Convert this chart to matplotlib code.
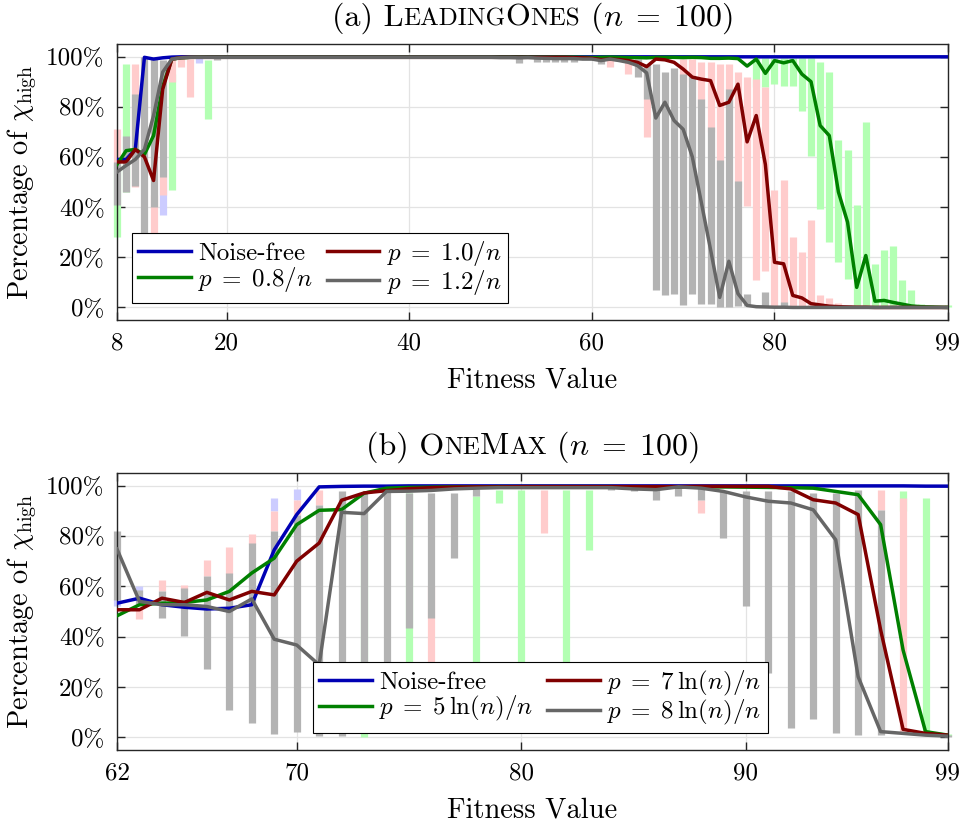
import matplotlib
matplotlib.use('Agg')
import matplotlib.pyplot as plt
from matplotlib.offsetbox import TextArea, HPacker, AnchoredOffsetbox

plt.rcParams.update({
    'font.family': 'serif',
    'font.serif': ['cmr10'],
    'mathtext.fontset': 'cm',
    'axes.unicode_minus': False,
    'axes.formatter.use_mathtext': True,
})

FS_TICK = 18
FS_LABEL = 20.5
FS_LEG = 18
FS_TITLE = 23
FS_SC = 18

# ---------------- (a) LeadingOnes ----------------
fit_a = list(range(8, 100))
a_noise_free = [59.0, 59.0, 63.0, 99.7, 99.0, 99.5, 99.8, 99.9, 99.9, 99.8,
                99.9, 99.9, 99.9, 99.9, 99.9, 99.9, 99.9, 99.9, 99.9, 99.9,
                99.9, 99.9, 99.9, 99.9, 99.9, 99.9, 99.9, 99.9, 99.9, 99.9,
                99.9, 99.9, 99.9, 99.9, 99.9, 99.9, 99.9, 99.9, 99.9, 99.9,
                99.9, 99.9, 99.9, 99.9, 99.9, 99.9, 99.9, 99.9, 99.9, 99.9,
                99.9, 99.9, 99.9, 99.9, 99.9, 99.9, 99.9, 99.9, 99.9, 99.9,
                99.9, 99.9, 99.9, 99.9, 99.9, 99.9, 99.9, 99.9, 99.9, 99.9,
                99.9, 99.9, 99.9, 99.9, 99.9, 99.9, 99.9, 99.9, 99.9, 99.9,
                99.9, 99.9, 99.9, 99.9, 99.9, 99.9, 99.9, 99.9, 99.9, 99.9,
                99.9, 99.9]
a_p08 = [57.0, 62.5, 63.0, 61.0, 68.5, 88.0, 99.0, 99.5, 99.7, 99.8,
         99.8, 99.8, 99.8, 99.8, 99.8, 99.8, 99.8, 99.8, 99.8, 99.8,
         99.8, 99.8, 99.8, 99.8, 99.8, 99.8, 99.8, 99.8, 99.8, 99.8,
         99.8, 99.8, 99.8, 99.8, 99.8, 99.8, 99.8, 99.8, 99.8, 99.8,
         99.8, 99.8, 99.8, 99.8, 99.8, 99.8, 99.8, 99.8, 99.8, 99.8,
         99.8, 99.7, 99.6, 99.7, 99.8, 99.7, 99.6, 99.6, 99.5, 99.7,
         99.7, 99.7, 99.6, 99.7, 99.6, 99.3, 99.3, 99.4, 99.2, 96.2,
         99.0, 93.3, 98.4, 97.5, 98.4, 93.0, 90.0, 72.5, 68.5, 46.0,
         34.0, 8.0, 20.7, 2.5, 2.8, 2.0, 1.3, 0.6, 0.3, 0.2,
         0.1, 0.0]
a_p10 = [58.0, 58.0, 63.0, 60.0, 50.6, 87.0, 99.0, 99.6, 99.7, 99.7,
         99.7, 99.7, 99.7, 99.7, 99.7, 99.7, 99.7, 99.7, 99.7, 99.7,
         99.7, 99.7, 99.7, 99.7, 99.7, 99.7, 99.7, 99.7, 99.7, 99.7,
         99.7, 99.7, 99.7, 99.7, 99.7, 99.7, 99.7, 99.7, 99.7, 99.7,
         99.7, 99.7, 99.7, 99.7, 99.7, 99.7, 99.7, 99.7, 99.7, 99.7,
         99.6, 99.5, 99.3, 98.8, 99.0, 98.8, 98.4, 97.7, 96.0, 99.0,
         98.7, 97.7, 95.0, 91.8, 91.0, 90.4, 80.5, 81.8, 89.0, 66.0,
         76.5, 57.0, 18.0, 17.4, 4.8, 3.8, 1.5, 1.0, 0.5, 0.3,
         0.2, 0.1, 0.1, 0.0, 0.0, 0.0, 0.0, 0.0, 0.0, 0.0,
         0.0, 0.0]
a_p12 = [54.0, 56.6, 59.0, 63.0, 76.5, 93.8, 99.0, 99.5, 99.7, 99.7,
         99.7, 99.7, 99.7, 99.7, 99.7, 99.7, 99.7, 99.7, 99.7, 99.7,
         99.7, 99.7, 99.7, 99.7, 99.7, 99.7, 99.7, 99.7, 99.7, 99.7,
         99.7, 99.7, 99.7, 99.7, 99.7, 99.7, 99.7, 99.7, 99.7, 99.7,
         99.7, 99.7, 99.6, 99.6, 99.5, 99.6, 99.4, 99.3, 99.2, 99.2,
         99.2, 99.0, 99.0, 98.4, 99.0, 98.4, 97.7, 96.4, 93.5, 75.5,
         81.8, 74.5, 71.0, 60.0, 41.6, 23.0, 4.0, 18.4, 5.5, 0.8,
         0.3, 0.2, 0.1, 0.1, 0.0, 0.0, 0.0, 0.0, 0.0, 0.0,
         0.0, 0.0, 0.0, 0.0, 0.0, 0.0, 0.0, 0.0, 0.0, 0.0,
         0.0, 0.0]

# range bars (fitness, low, high)
a_bar_nf_x = [13, 17]
a_bar_nf_lo = [37, 97.5]
a_bar_nf_hi = [52, 100]

a_bar_p08_x = [8, 9, 14, 18, 78, 79, 80, 81, 82, 83, 84, 85, 86, 87, 88, 89, 90,
               91, 92, 93, 94, 95, 96, 97, 99]
a_bar_p08_lo = [28, 46, 47, 75, 88, 87.8, 89, 88.4, 88.4, 78.5, 60.5, 39.2, 26,
                18, 11.4, 0, 0, 0, 0, 0, 0, 0, 0, 0, 0]
a_bar_p08_hi = [57, 97, 93, 98.5, 99.5, 99.5, 99.5, 99.5, 99.5, 99.5, 99.5, 98,
                94, 66.6, 62.6, 41, 74, 17.5, 22.7, 24.3, 11, 7, 1.5, 1, 1]

a_bar_p10_x = [8, 10, 12, 13, 14, 15, 16, 62, 64, 66, 70, 71, 72, 73, 74, 75,
               76, 77, 78, 79, 80, 81, 82, 83, 84, 85, 86, 87, 88]
a_bar_p10_lo = [56, 48, 18, 45, 90, 96, 84, 96, 93, 68, 90, 88, 80, 70, 55, 80,
                48, 40.6, 10.8, 14.7, 0.5, 0.5, 0, 0, 0, 0, 0, 0, 0]
a_bar_p10_hi = [71, 97, 45, 55, 99, 100, 99, 99.5, 99.5, 97, 99, 99, 98, 98, 97,
                97, 94, 91.8, 91, 88, 47, 51, 28, 22, 35, 5, 3.8, 1.7, 1]

a_bar_p12_x = [8, 9, 10, 11, 12, 13, 19, 52, 54, 55, 56, 57, 58, 61, 65, 66, 67,
               68, 69, 70, 71, 72, 73, 74, 75, 76, 77, 79, 81]
a_bar_p12_lo = [41, 46, 48.6, 22, 40, 52, 98.5, 97.5, 98, 98, 98, 98, 98, 97,
                92, 83, 6.8, 4.8, 5.4, 0.8, 5.4, 1.5, 1.5, 0, 0, 0.4, 0.4, 0.4, 0]
a_bar_p12_hi = [58, 68.5, 85, 100, 100, 98.6, 100, 99.5, 99.5, 99.5, 99.5, 99.5,
                99.5, 99.5, 99, 97, 97, 93.8, 95.5, 93, 92.4, 83, 72, 58.6, 87,
                50.6, 5.4, 6, 2]

# ---------------- (b) OneMax ----------------
fit_b = list(range(62, 100))
b_noise_free = [53.3, 55.3, 52.7, 51.7, 51.0, 51.3, 52.7, 74.5, 88.5, 99.5,
                99.7, 99.8, 99.8, 99.9, 99.9, 99.9, 99.9, 99.9, 99.9, 99.9,
                99.9, 99.9, 99.9, 99.9, 99.9, 99.9, 99.9, 99.9, 99.9, 99.9,
                99.9, 99.9, 99.9, 99.9, 99.9, 99.9, 99.8, 99.8]
b_p5 = [48.3, 52.7, 53.3, 53.6, 54.6, 58.0, 65.3, 71.2, 84.5, 90.2,
        90.5, 97.0, 99.0, 99.3, 99.4, 99.5, 99.5, 99.6, 99.6, 99.6,
        99.6, 99.6, 99.6, 99.5, 99.5, 99.5, 99.5, 99.5, 99.4, 99.3,
        99.2, 99.0, 97.7, 96.4, 84.5, 34.7, 2.3, 0.9]
b_p7 = [50.7, 50.7, 55.3, 53.6, 57.6, 54.6, 58.0, 56.6, 70.0, 77.2,
        94.2, 97.1, 98.0, 98.8, 99.2, 99.4, 99.5, 99.5, 99.6, 99.6,
        99.6, 99.6, 99.6, 99.6, 99.6, 99.6, 99.7, 99.7, 99.7, 99.7,
        98.7, 94.4, 93.1, 88.5, 42.7, 3.2, 1.6, 0.9]
b_p8 = [74.8, 54.0, 52.7, 52.7, 52.0, 50.0, 55.0, 39.0, 36.7, 28.8,
        89.4, 88.9, 97.7, 97.8, 98.1, 98.7, 99.0, 99.2, 99.2, 99.2,
        99.2, 99.2, 99.2, 98.7, 98.4, 99.5, 99.0, 97.7, 95.5, 93.8,
        93.1, 90.4, 78.5, 24.1, 2.3, 1.6, 0.9, 0.5]

b_bar_nf_x = [62, 63, 69, 70]
b_bar_nf_lo = [52, 55, 89.8, 94.4]
b_bar_nf_hi = [55, 60, 95, 98.8]

b_bar_p5_x = [73, 75, 78, 79, 80, 82, 83, 97, 98, 99]
b_bar_p5_lo = [0, 27, 27, 93, 27, 27, 74.5, 90, 1.6, 0.5]
b_bar_p5_hi = [90, 97, 96, 98.4, 98.4, 98.4, 98.4, 97.7, 95, 1.5]

b_bar_p7_x = [63, 64, 65, 66, 67, 68, 69, 70, 71, 76, 81, 88, 96, 97]
b_bar_p7_lo = [47, 58, 58, 64, 65, 77, 82, 88.5, 92.4, 27, 81.2, 89, 90.4, 2.3]
b_bar_p7_hi = [51, 62.6, 60.7, 70.6, 75.6, 80.8, 89.8, 94.4, 98.4, 60, 98.4,
               94.4, 98.4, 95]

b_bar_p8_x = [62, 63, 64, 65, 66, 67, 68, 69, 70, 71, 72, 73, 74, 75, 76, 77, 78,
              84, 85, 86, 87, 88, 89, 90, 91, 92, 93, 94, 95, 96, 99]
b_bar_p8_lo = [54.6, 53, 47.3, 40.3, 27, 10.9, 5.6, 1.3, 2.3, 0.5, 0.5, 10, 5,
               43.4, 47.3, 71.2, 96, 98.4, 97.7, 94.2, 96, 94.4, 79.2, 52, 25.7,
               3.6, 7.2, 1.6, 0.9, 0.9, 0]
b_bar_p8_hi = [81.8, 58.6, 58, 59.3, 64.2, 65.5, 77.2, 82, 88.5, 92.4, 98, 97,
               97.7, 97, 97, 97, 98.7, 99.5, 99.5, 98.4, 99, 99, 97.7, 97.7, 97.7,
               97.7, 97, 97, 98.4, 90.4, 1]

LINE_COLORS = ['#0000b4', '#008000', '#800000', '#666666']
BAR_COLORS = ['#ccccff', '#b3ffb3', '#ffcccc', '#b3b3b3']

fig = plt.figure(figsize=(9.64, 8.26), dpi=100)
ax1 = fig.add_axes([0.1214, 0.6126, 0.8620, 0.3341])
ax2 = fig.add_axes([0.1214, 0.0920, 0.8620, 0.3353])


def draw(ax, fit, means, bars, labels, xlim, xticks, title_parts, legend_anchor):
    for (bx, blo, bhi), col in zip(bars, BAR_COLORS):
        ax.vlines(bx, blo, bhi, colors=col, linewidth=5.2, zorder=1,
                  clip_on=False)
    handles = []
    for m, col, lab in zip(means, LINE_COLORS, labels):
        h, = ax.plot(fit, m, color=col, lw=2.5, label=lab, zorder=3,
                     solid_joinstyle='round')
        handles.append(h)
    ax.set_xlim(*xlim)
    ax.set_ylim(-5, 105)
    ax.set_xticks(xticks)
    ax.set_xticklabels([str(t) for t in xticks])
    ax.set_yticks([0, 20, 40, 60, 80, 100])
    ax.set_yticklabels(['0%', '20%', '40%', '60%', '80%', '100%'])
    ax.tick_params(direction='in', length=6, width=1.0, color='#262626',
                   labelsize=FS_TICK, pad=9, top=True, right=True)
    for s in ax.spines.values():
        s.set_color('#262626')
        s.set_linewidth(1.0)
    ax.set_axisbelow(True)
    ax.grid(True, color='#e3e3e3', lw=0.9)
    ax.set_xlabel('Fitness Value', fontsize=FS_LABEL, labelpad=9)
    ax.set_ylabel(r'Percentage of $\chi_{\mathrm{high}}$', fontsize=FS_LABEL,
                  labelpad=5)
    leg = ax.legend(handles=handles, ncol=2, loc='lower left',
                    bbox_to_anchor=legend_anchor, borderaxespad=0,
                    fontsize=FS_LEG, handlelength=2.1, handletextpad=0.3,
                    columnspacing=0.55, labelspacing=0.0, borderpad=0.25,
                    fancybox=False, framealpha=1, edgecolor='black')
    leg.get_frame().set_linewidth(0.8)
    leg.set_zorder(10)
    boxes = [TextArea(t, textprops=dict(fontsize=s)) for t, s in title_parts]
    pack = HPacker(children=boxes, align='baseline', pad=0, sep=0)
    ab = AnchoredOffsetbox(loc='lower center', child=pack, pad=0,
                           borderpad=0, frameon=False,
                           bbox_to_anchor=(0.5, 1.03),
                           bbox_transform=ax.transAxes)
    ax.add_artist(ab)


draw(ax1, fit_a, [a_noise_free, a_p08, a_p10, a_p12],
     [(a_bar_nf_x, a_bar_nf_lo, a_bar_nf_hi),
      (a_bar_p08_x, a_bar_p08_lo, a_bar_p08_hi),
      (a_bar_p10_x, a_bar_p10_lo, a_bar_p10_hi),
      (a_bar_p12_x, a_bar_p12_lo, a_bar_p12_hi)],
     ['Noise-free', r'$p\;=\;0.8/n$', r'$p\;=\;1.0/n$', r'$p\;=\;1.2/n$'],
     (8, 99), [8, 20, 40, 60, 80, 99],
     [('(a) L', FS_TITLE), ('EADING', FS_SC), ('O', FS_TITLE), ('NES', FS_SC),
      (r' ($n\;=\;100$)', FS_TITLE)],
     (0.018, 0.061))

draw(ax2, fit_b, [b_noise_free, b_p5, b_p7, b_p8],
     [(b_bar_nf_x, b_bar_nf_lo, b_bar_nf_hi),
      (b_bar_p5_x, b_bar_p5_lo, b_bar_p5_hi),
      (b_bar_p7_x, b_bar_p7_lo, b_bar_p7_hi),
      (b_bar_p8_x, b_bar_p8_lo, b_bar_p8_hi)],
     ['Noise-free', r'$p\;=\;5\,\ln(n)/n$', r'$p\;=\;7\,\ln(n)/n$',
      r'$p\;=\;8\,\ln(n)/n$'],
     (62, 99), [62, 70, 80, 90, 99],
     [('(b) O', FS_TITLE), ('NE', FS_SC), ('M', FS_TITLE), ('AX', FS_SC),
      (r' ($n\;=\;100$)', FS_TITLE)],
     (0.236, 0.061))

fig.savefig('out.png', dpi=100)
